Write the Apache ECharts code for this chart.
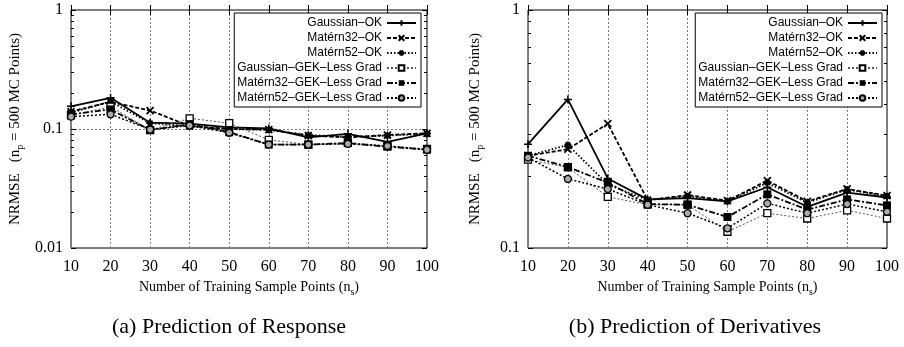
<!DOCTYPE html>
<html><head><meta charset="utf-8">
<script src="https://cdn.jsdelivr.net/npm/echarts@6/dist/echarts.min.js"></script>
<style>html,body{margin:0;padding:0;background:#fff}#c{width:904px;height:347px}</style>
</head><body><div id="c"></div>
<script>
// ---- data ----
const nTrain = [10, 20, 30, 40, 50, 60, 70, 80, 90, 100];
const seriesNames = ['Gaussian–OK', 'Matérn32–OK', 'Matérn52–OK',
  'Gaussian–GEK–Less Grad', 'Matérn32–GEK–Less Grad', 'Matérn52–GEK–Less Grad'];
const xTickLabels = ['10', '20', '30', '40', '50', '60', '70', '80', '90', '100'];
// (a) Prediction of Response
const respGaussOK  = [0.155, 0.183, 0.113, 0.111, 0.103, 0.101, 0.085, 0.091, 0.078, 0.092];
const respM32OK    = [0.140, 0.169, 0.143, 0.106, 0.100, 0.099, 0.088, 0.085, 0.089, 0.092];
const respM52OK    = [0.137, 0.170, 0.112, 0.105, 0.100, 0.098, 0.089, 0.086, 0.088, 0.091];
const respGaussGEK = [0.130, 0.154, 0.098, 0.123, 0.112, 0.081, 0.074, 0.077, 0.072, 0.068];
const respM32GEK   = [0.133, 0.146, 0.098, 0.110, 0.094, 0.074, 0.074, 0.076, 0.071, 0.067];
const respM52GEK   = [0.127, 0.133, 0.099, 0.107, 0.093, 0.074, 0.074, 0.075, 0.072, 0.067];
// (b) Prediction of Derivatives
const derivGaussOK  = [0.273, 0.421, 0.196, 0.160, 0.162, 0.157, 0.180, 0.149, 0.171, 0.163];
const derivM32OK    = [0.244, 0.260, 0.333, 0.159, 0.167, 0.158, 0.192, 0.157, 0.177, 0.166];
const derivM52OK    = [0.244, 0.271, 0.185, 0.159, 0.165, 0.157, 0.188, 0.155, 0.176, 0.165];
const derivGaussGEK = [0.235, 0.218, 0.164, 0.152, 0.152, 0.117, 0.140, 0.133, 0.144, 0.133];
const derivM32GEK   = [0.244, 0.219, 0.188, 0.153, 0.152, 0.135, 0.168, 0.145, 0.160, 0.151];
const derivM52GEK   = [0.240, 0.195, 0.177, 0.152, 0.140, 0.121, 0.154, 0.140, 0.153, 0.142];
const captions = ['(a) Prediction of Response', '(b) Prediction of Derivatives'];

const respData = [respGaussOK, respM32OK, respM52OK, respGaussGEK, respM32GEK, respM52GEK];
const derivData = [derivGaussOK, derivM32OK, derivM52OK, derivGaussGEK, derivM32GEK, derivM52GEK];

// ---- styles ----
const PLUS = 'path://M5,0L5,10M0,5L10,5';
const CROSS = 'path://M0,0L10,10M10,0L0,10';
const STAR = 'path://M5,0L5,10M0,5L10,5M1.5,1.5L8.5,8.5M8.5,1.5L1.5,8.5';
const styles = [
  { symbol: PLUS, size: 8, line: { width: 1.8, type: 'solid', color: '#000' }, item: { color: '#000', borderColor: '#000', borderWidth: 1.5 } },
  { symbol: CROSS, size: 7, line: { width: 1.8, type: [4, 2], color: '#000' }, item: { color: '#000', borderColor: '#000', borderWidth: 1.8 } },
  { symbol: STAR, size: 7, line: { width: 1.8, type: [1.5, 2], color: '#000' }, item: { color: '#000', borderColor: '#000', borderWidth: 1.8 } },
  { symbol: 'rect', size: 7, line: { width: 1, type: [2, 2], color: '#555' }, item: { color: '#fff', borderColor: '#000', borderWidth: 1.3 } },
  { symbol: 'rect', size: 8, line: { width: 1.8, type: [6, 2, 2, 2], color: '#000' }, item: { color: '#000', borderColor: '#000', borderWidth: 0 } },
  { symbol: 'circle', size: 7, line: { width: 1.5, type: [2, 2], color: '#000' }, item: { color: '#aaa', borderColor: '#000', borderWidth: 1.3 } }
];

const SERIF = 'Liberation Serif, Times New Roman, serif';
const SANS = 'Liberation Sans, Arial, sans-serif';

function minorVals(decades) {
  const out = [];
  decades.forEach(d => { for (let k = 2; k <= 9; k++) out.push(d + Math.log10(k)); });
  return out;
}

const grids = [
  { left: 71, top: 10, width: 356, height: 238 },
  { left: 528, top: 10, width: 359, height: 238 }
];
const yRanges = [[0.01, 1], [0.1, 1]];
const yNameGap = [46, 43];

const xAxes = [], yAxes = [], series = [];
grids.forEach((g, gi) => {
  xAxes.push({
    gridIndex: gi, type: 'value', min: 10, max: 100, interval: 10, position: 'bottom',
    axisLine: { show: false },
    axisTick: { inside: true, length: 5, lineStyle: { color: '#000' } },
    axisLabel: { color: '#000', fontFamily: SERIF, fontSize: 16, margin: 11,
      formatter: v => xTickLabels[nTrain.indexOf(v)] },
    splitLine: { show: true, lineStyle: { color: '#777', type: [2, 2], width: 1 } },
    name: '{a|Number of Training Sample Points (n}{s|s}{a|)}',
    nameLocation: 'middle', nameGap: 25,
    nameTextStyle: { rich: {
      a: { fontFamily: SERIF, fontSize: 14, color: '#000', lineHeight: 20 },
      s: { fontFamily: SERIF, fontSize: 10, color: '#000', lineHeight: 10, verticalAlign: 'bottom' } } }
  });
  xAxes.push({
    gridIndex: gi, type: 'value', min: 10, max: 100, interval: 10, position: 'top',
    axisLine: { show: false }, axisLabel: { show: false }, splitLine: { show: false },
    axisTick: { inside: true, length: 5, lineStyle: { color: '#000' } }
  });
  const [ymin, ymax] = yRanges[gi];
  yAxes.push({
    gridIndex: gi, type: 'log', logBase: 10, min: ymin, max: ymax, position: 'left',
    axisLine: { show: false },
    axisTick: { inside: true, length: 5, lineStyle: { color: '#000' } },
    axisLabel: { color: '#000', fontFamily: SERIF, fontSize: 16, margin: 8 },
    splitLine: { show: true, lineStyle: { color: '#777', type: [2, 2], width: 1 } },
    name: '{a|NRMSE   (n}{s|p}{a| = 500 MC Points)}',
    nameLocation: 'middle', nameGap: yNameGap[gi], nameRotate: 90,
    nameTextStyle: { rich: {
      a: { fontFamily: SERIF, fontSize: 15, color: '#000', lineHeight: 20 },
      s: { fontFamily: SERIF, fontSize: 10, color: '#000', lineHeight: 10, verticalAlign: 'bottom' } } }
  });
  yAxes.push({
    gridIndex: gi, type: 'log', logBase: 10, min: ymin, max: ymax, position: 'right',
    axisLine: { show: false }, axisLabel: { show: false }, splitLine: { show: false },
    axisTick: { inside: true, length: 5, lineStyle: { color: '#000' } }
  });
  const lo = Math.log10(ymin), hi = Math.log10(ymax);
  const decs = []; for (let d = lo; d < hi; d++) decs.push(d);
  ['left', 'right'].forEach(pos => {
    yAxes.push({
      gridIndex: gi, type: 'value', min: lo, max: hi, position: pos,
      axisLine: { show: false }, axisLabel: { show: false }, splitLine: { show: false },
      axisTick: { inside: true, length: 3, customValues: minorVals(decs), lineStyle: { color: '#000' } }
    });
  });
  const dataSet = gi === 0 ? respData : derivData;
  dataSet.forEach((vals, si) => {
    const st = styles[si];
    series.push({
      name: seriesNames[si], type: 'line', xAxisIndex: gi * 2, yAxisIndex: gi * 4,
      data: nTrain.map((x, i) => [x, vals[i]]),
      symbol: st.symbol, symbolSize: st.size, showSymbol: true,
      lineStyle: st.line, itemStyle: st.item,
      emphasis: { disabled: true }, animation: false, z: 3 + si
    });
  });
});

const legendBase = {
  orient: 'vertical', align: 'right', top: 13,
  borderColor: '#000', borderWidth: 1, backgroundColor: '#fff', borderRadius: 0,
  padding: [4, 4, 3, 3], itemWidth: 29, itemHeight: 7, itemGap: 3,
  textStyle: { fontFamily: SANS, fontSize: 12, color: '#000', lineHeight: 12 },
  data: seriesNames, selectedMode: false, z: 20
};

const option = {
  backgroundColor: '#fff',
  animation: false,
  grid: grids.map(g => Object.assign({ show: true, borderColor: '#000', borderWidth: 1, backgroundColor: 'transparent', containLabel: false }, g)),
  xAxis: xAxes,
  yAxis: yAxes,
  legend: [Object.assign({ right: 483 }, legendBase), Object.assign({ right: 22 }, legendBase)],
  series: series,
  graphic: [
    { type: 'text', x: 229, y: 327, style: { text: captions[0], fontFamily: SERIF, fontSize: 22, fill: '#000', align: 'center', verticalAlign: 'middle' } },
    { type: 'text', x: 695, y: 327, style: { text: captions[1], fontFamily: SERIF, fontSize: 22, fill: '#000', align: 'center', verticalAlign: 'middle' } }
  ]
};
const chart = echarts.init(document.getElementById('c'), null, { renderer: 'canvas' });
chart.setOption(option);
</script></body></html>
